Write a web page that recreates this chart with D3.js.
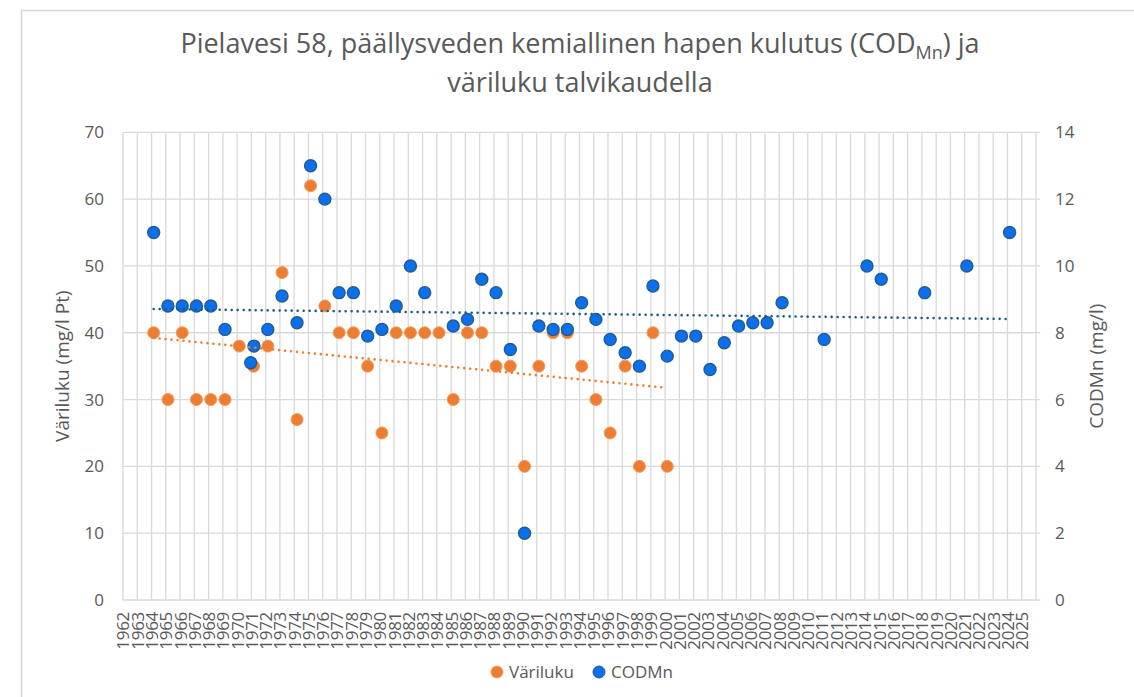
<!DOCTYPE html>
<html>
<head>
<meta charset="utf-8">
<script src="https://cdn.jsdelivr.net/npm/d3@7"></script>
<style>
  html, body { margin: 0; padding: 0; background: #fff; }
  svg { display: block; font-family: "Open Sans", "Noto Sans", sans-serif; }
</style>
</head>
<body>
<div id="chart"></div>
<script>

// sampling dates as decimal years
var varilukuDates = [1964.15, 1965.15, 1966.15, 1967.15, 1968.15, 1969.15, 1970.15, 1971.15, 1972.15,
    1973.15, 1974.2, 1975.15, 1976.15, 1977.15, 1978.15, 1979.15, 1980.15, 1981.15, 1982.15, 1983.15,
    1984.15, 1985.15, 1986.15, 1987.15, 1988.15, 1989.15, 1990.15, 1991.15, 1992.15, 1993.15, 1994.15,
    1995.15, 1996.15, 1997.2, 1998.2, 1999.15, 2000.15];
var varilukuValues = [40, 30, 40, 30, 30, 30, 38, 35, 38,
    49, 27, 62, 44, 40, 40, 35, 25, 40, 40, 40,
    40, 30, 40, 40, 35, 35, 20, 35, 40, 40, 35,
    30, 25, 35, 20, 40, 20];

var codDates = [1964.15, 1965.15, 1966.15, 1967.15, 1968.15, 1969.15, 1970.95, 1971.18, 1972.15,
    1973.15, 1974.2, 1975.15, 1976.15, 1977.15, 1978.15, 1979.15, 1980.15, 1981.15, 1982.15, 1983.15,
    1985.15, 1986.15, 1987.15, 1988.15, 1989.15, 1990.15, 1991.15, 1992.15, 1993.15, 1994.15,
    1995.15, 1996.15, 1997.2, 1998.2, 1999.15, 2000.15, 2001.15, 2002.15, 2003.15, 2004.15,
    2005.15, 2006.15, 2007.15, 2008.2, 2011.15, 2014.15, 2015.15, 2018.2, 2021.15, 2024.15];
var codValues = [11.0, 8.8, 8.8, 8.8, 8.8, 8.1, 7.1, 7.6, 8.1,
    9.1, 8.3, 13.0, 12.0, 9.2, 9.2, 7.9, 8.1, 8.8, 10.0, 9.2,
    8.2, 8.4, 9.6, 9.2, 7.5, 2.0, 8.2, 8.1, 8.1, 8.9,
    8.4, 7.8, 7.4, 7.0, 9.4, 7.3, 7.9, 7.9, 6.9, 7.7,
    8.2, 8.3, 8.3, 8.9, 7.8, 10.0, 9.6, 9.2, 10.0, 11.0];

var yearLabels = d3.range(1962, 2026);
var leftTicks = [0, 10, 20, 30, 40, 50, 60, 70];
var rightTicks = [0, 2, 4, 6, 8, 10, 12, 14];

var width = 1134,
    height = 697,
    plotLeft = 123,
    plotRight = 1040,
    plotTop = 132.3,
    plotBottom = 600,
    textColor = '#595959',
    gridColor = '#d9d9d9',
    orange = '#ED7D31',
    blue = '#0A70F0';

var svg = d3.select('#chart').append('svg')
    .attr('width', width)
    .attr('height', height);

// chart frame
svg.append('rect')
    .attr('x', 21.5)
    .attr('y', 10.5)
    .attr('width', 1300)
    .attr('height', 900)
    .attr('fill', '#fff')
    .attr('stroke', '#d6d6d6')
    .attr('stroke-width', 1.5);

var x = d3.scaleLinear().domain([1962, 2026.28]).range([plotLeft, plotRight]);
var yLeft = d3.scaleLinear().domain([0, 70]).range([plotBottom, plotTop]);
var yRight = d3.scaleLinear().domain([0, 14]).range([plotBottom, plotTop]);

// gridlines
svg.append('g')
    .selectAll('line')
    .data(d3.range(1962, 2027))
    .join('line')
    .attr('x1', function(d) { return x(d); })
    .attr('x2', function(d) { return x(d); })
    .attr('y1', plotTop)
    .attr('y2', plotBottom)
    .attr('stroke', gridColor)
    .attr('stroke-width', 1.3);

svg.append('g')
    .selectAll('line')
    .data(leftTicks)
    .join('line')
    .attr('x1', plotLeft)
    .attr('x2', plotRight)
    .attr('y1', function(d) { return yLeft(d); })
    .attr('y2', function(d) { return yLeft(d); })
    .attr('stroke', gridColor)
    .attr('stroke-width', 1.3);

// axes, drawn with d3 axis then restyled
var leftAxis = svg.append('g')
    .attr('transform', 'translate(' + (plotLeft - 19) + ',0)')
    .call(d3.axisLeft(yLeft).tickValues(leftTicks).tickSize(0).tickPadding(0));

var rightAxis = svg.append('g')
    .attr('transform', 'translate(' + (plotRight + 15) + ',0)')
    .call(d3.axisRight(yRight).tickValues(rightTicks).tickSize(0).tickPadding(0));

var bottomAxis = svg.append('g')
    .attr('transform', 'translate(0,' + plotBottom + ')')
    .call(d3.axisBottom(x).tickValues(yearLabels).tickFormat(d3.format('d')).tickSize(0));

bottomAxis.selectAll('text')
    .attr('transform', 'rotate(-90)')
    .attr('text-anchor', 'end')
    .attr('x', -12)
    .attr('y', 0)
    .attr('dy', '0.35em')
    .style('letter-spacing', '-0.3px');

[leftAxis, rightAxis, bottomAxis].forEach(function(ax) {
    ax.select('.domain').remove();
    ax.selectAll('text')
        .attr('fill', textColor)
        .style('font-size', '17px')
        .style('font-family', '"Open Sans", sans-serif');
});

// trendlines (least squares over each series)
function trend(xs, ys) {
    var mx = d3.mean(xs), my = d3.mean(ys);
    var num = d3.sum(xs, function(v, i) { return (v - mx) * (ys[i] - my); });
    var den = d3.sum(xs, function(v) { return (v - mx) * (v - mx); });
    var b = num / den;
    var x0 = d3.min(xs), x1 = d3.max(xs);
    return [[x0, my + b * (x0 - mx)], [x1, my + b * (x1 - mx)]];
}

var lineLeft = d3.line()
    .x(function(d) { return x(d[0]); })
    .y(function(d) { return yLeft(d[1]); });
var lineRight = d3.line()
    .x(function(d) { return x(d[0]); })
    .y(function(d) { return yRight(d[1]); });

// points
svg.append('g')
    .selectAll('circle')
    .data(varilukuValues)
    .join('circle')
    .attr('cx', function(d, i) { return x(varilukuDates[i]); })
    .attr('cy', function(d) { return yLeft(d); })
    .attr('r', 6)
    .attr('fill', orange)
    .attr('stroke', '#F39A5E')
    .attr('stroke-width', 1);

svg.append('g')
    .selectAll('circle')
    .data(codValues)
    .join('circle')
    .attr('cx', function(d, i) { return x(codDates[i]); })
    .attr('cy', function(d) { return yRight(d); })
    .attr('r', 6)
    .attr('fill', blue)
    .attr('stroke', '#245C85')
    .attr('stroke-width', 1.4);

svg.append('path')
    .attr('d', lineLeft(trend(varilukuDates, varilukuValues)))
    .attr('fill', 'none')
    .attr('stroke', orange)
    .attr('stroke-width', 2.6)
    .attr('stroke-linecap', 'round')
    .attr('stroke-dasharray', '0,6');

svg.append('path')
    .attr('d', lineRight(trend(codDates, codValues)))
    .attr('fill', 'none')
    .attr('stroke', '#1B5A86')
    .attr('stroke-width', 2.6)
    .attr('stroke-linecap', 'round')
    .attr('stroke-dasharray', '0,6');

// axis titles
svg.append('text')
    .attr('transform', 'translate(62,' + ((plotTop + plotBottom) / 2) + ') rotate(-90)')
    .attr('text-anchor', 'middle')
    .attr('dy', '0.35em')
    .attr('fill', textColor)
    .style('font-size', '19px')
    .text('Väriluku (mg/l Pt)');

svg.append('text')
    .attr('transform', 'translate(1096,' + ((plotTop + plotBottom) / 2) + ') rotate(-90)')
    .attr('text-anchor', 'middle')
    .attr('dy', '0.35em')
    .attr('fill', textColor)
    .style('font-size', '19px')
    .text('CODMn (mg/l)');

// title
var title = svg.append('text')
    .attr('text-anchor', 'middle')
    .attr('fill', textColor)
    .style('font-size', '27px');

var t1 = title.append('tspan').attr('x', 580).attr('y', 53);
t1.append('tspan').text('Pielavesi 58, päällysveden kemiallinen hapen kulutus (COD');
t1.append('tspan').attr('dy', 6).style('font-size', '18px').text('Mn');
t1.append('tspan').attr('dy', -6).text(') ja');

title.append('tspan').attr('x', 580).attr('y', 92).text('väriluku talvikaudella');

// legend
var legendItems = [
    { label: 'Väriluku', color: orange, stroke: '#F39A5E', cx: 497 },
    { label: 'CODMn', color: blue, stroke: '#245C85', cx: 599 }
];

var legend = svg.append('g')
    .selectAll('g')
    .data(legendItems)
    .join('g')
    .attr('transform', function(d) { return 'translate(' + d.cx + ',672)'; });

legend.append('circle')
    .attr('r', 6)
    .attr('fill', function(d) { return d.color; })
    .attr('stroke', function(d) { return d.stroke; })
    .attr('stroke-width', 1);

legend.append('text')
    .attr('x', 12)
    .attr('dy', '0.35em')
    .attr('fill', textColor)
    .style('font-size', '17px')
    .text(function(d) { return d.label; });

</script>
</body>
</html>
